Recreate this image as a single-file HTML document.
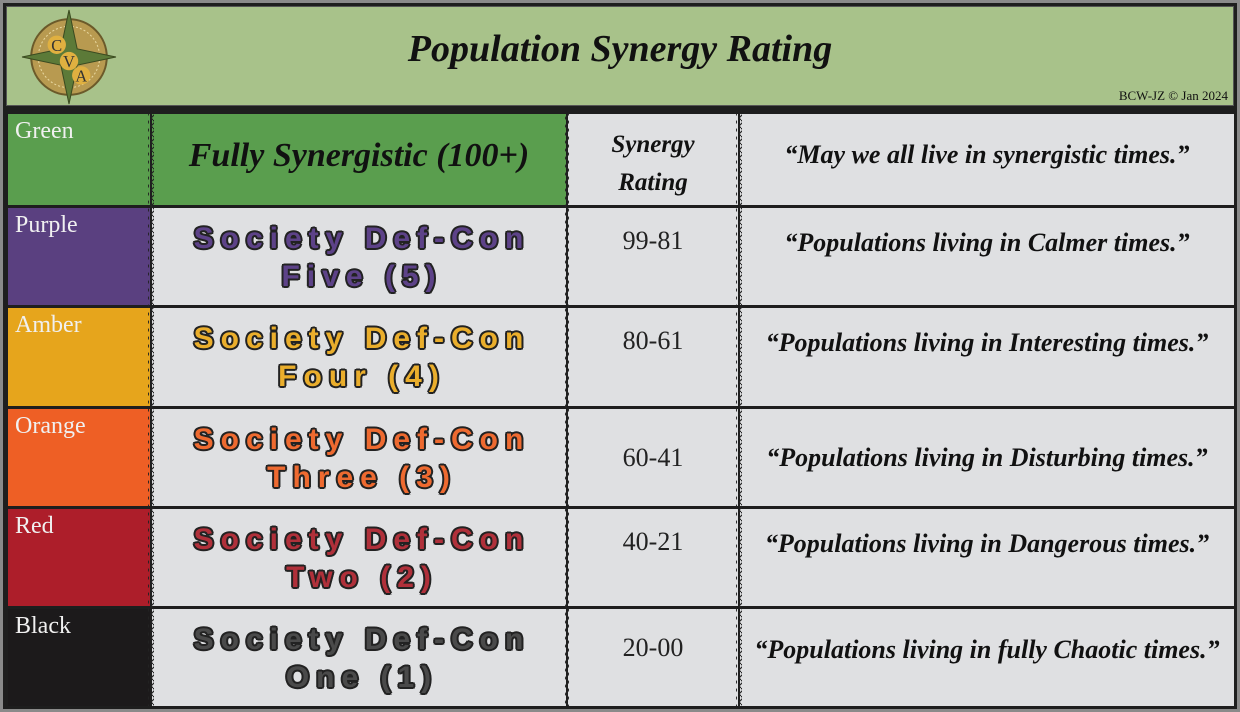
<!DOCTYPE html>
<html><head><meta charset="utf-8"><style>
body{margin:0;width:1240px;height:712px;background:#8a8a8a;position:relative;overflow:hidden;font-family:"Liberation Serif",serif}
.a{position:absolute}
.hdr{left:6px;top:6px;width:1228px;height:100px;background:#a8c28a;border:1px solid #555;box-sizing:border-box}
.cell{position:absolute;box-sizing:border-box}
.lab{color:#f0f0f0;font-size:24px;padding:4px 0 0 7px}
.dc{font-family:"Liberation Sans",sans-serif;font-weight:bold;font-size:30px;letter-spacing:7px;text-align:center;line-height:38px;padding-top:12px;padding-left:6px;
text-shadow:-2px 0 #222,2px 0 #222,0 -2px #222,0 2px #222,-1.5px -1.5px #222,1.5px 1.5px #222,-1.5px 1.5px #222,1.5px -1.5px #222}
.rt{font-size:26px;color:#222;text-align:center;padding-top:18px}
.q{font-size:26px;font-style:italic;color:#111;text-align:center;padding-top:20px}
</style></head><body>
<div class="a" style="left:3px;top:3px;width:1234px;height:706px;background:#1e1e1e"></div>
<div class="a hdr"></div>
<svg class="a" style="left:20px;top:8px" width="98" height="98" viewBox="0 0 96 96">
<circle cx="48" cy="48" r="37" fill="#b89a50" stroke="#6b5a2a" stroke-width="2"/>
<circle cx="48" cy="48" r="30" fill="none" stroke="#e8d8a0" stroke-width="1" stroke-dasharray="2 2"/>
<polygon points="48,2 56,40 94,48 56,56 48,94 40,56 2,48 40,40" fill="#5c7a38" stroke="#3a4a20"/>
<circle cx="36" cy="36" r="9" fill="#e0b040"/><text x="36" y="42" font-size="16" text-anchor="middle" fill="#333">C</text>
<circle cx="48" cy="52" r="9" fill="#e0b040"/><text x="48" y="58" font-size="16" text-anchor="middle" fill="#333">V</text>
<circle cx="60" cy="66" r="9" fill="#e0b040"/><text x="60" y="72" font-size="16" text-anchor="middle" fill="#333">A</text>
</svg>
<div class="a" style="left:0;width:1240px;top:27px;text-align:center;font-size:38px;font-weight:bold;font-style:italic;color:#111">Population Synergy Rating</div>
<div class="a" style="right:12px;top:88px;font-size:13px;color:#111">BCW-JZ © Jan 2024</div>

<div class="cell lab" style="left:8px;top:114px;width:142px;height:91px;background:#5a9e4e">Green</div>
<div class="cell" style="left:152px;top:114px;width:414px;height:91px;background:#5a9e4e;text-align:center;font-size:34px;font-style:italic;font-weight:bold;color:#111;padding-top:23px">Fully Synergistic (100+)</div>
<div class="cell" style="left:568px;top:114px;width:170px;height:91px;background:#dfe0e2;text-align:center;font-size:25px;font-style:italic;font-weight:bold;color:#111;padding-top:12px;line-height:38px">Synergy<br>Rating</div>
<div class="cell q" style="left:740px;top:114px;width:494px;height:91px;background:#dfe0e2;padding-top:26px;font-weight:bold">“May we all live in synergistic times.”</div>

<div class="cell lab" style="left:8px;top:208px;width:142px;height:97px;background:#5a4080">Purple</div>
<div class="cell dc" style="left:152px;top:208px;width:414px;height:97px;background:#dfe0e2;color:#5d4288;padding-top:12px">Society Def-Con<br>Five (5)</div>
<div class="cell rt" style="left:568px;top:208px;width:170px;height:97px;background:#dfe0e2">99-81</div>
<div class="cell q" style="left:740px;top:208px;width:494px;height:97px;background:#dfe0e2;font-weight:bold">“Populations living in Calmer times.”</div>

<div class="cell lab" style="left:8px;top:308px;width:142px;height:98px;background:#e6a51c">Amber</div>
<div class="cell dc" style="left:152px;top:308px;width:414px;height:98px;background:#dfe0e2;color:#eaae2c">Society Def-Con<br>Four (4)</div>
<div class="cell rt" style="left:568px;top:308px;width:170px;height:98px;background:#dfe0e2">80-61</div>
<div class="cell q" style="left:740px;top:308px;width:494px;height:98px;background:#dfe0e2;font-weight:bold">“Populations living in Interesting times.”</div>

<div class="cell lab" style="left:8px;top:409px;width:142px;height:97px;background:#ee5f25">Orange</div>
<div class="cell dc" style="left:152px;top:409px;width:414px;height:97px;background:#dfe0e2;color:#ee6a30">Society Def-Con<br>Three (3)</div>
<div class="cell rt" style="left:568px;top:409px;width:170px;height:97px;background:#dfe0e2;padding-top:34px">60-41</div>
<div class="cell q" style="left:740px;top:409px;width:494px;height:97px;background:#dfe0e2;font-weight:bold;padding-top:34px">“Populations living in Disturbing times.”</div>

<div class="cell lab" style="left:8px;top:509px;width:142px;height:97px;background:#ad1e2a">Red</div>
<div class="cell dc" style="left:152px;top:509px;width:414px;height:97px;background:#dfe0e2;color:#b0303a">Society Def-Con<br>Two (2)</div>
<div class="cell rt" style="left:568px;top:509px;width:170px;height:97px;background:#dfe0e2">40-21</div>
<div class="cell q" style="left:740px;top:509px;width:494px;height:97px;background:#dfe0e2;font-weight:bold">“Populations living in Dangerous times.”</div>

<div class="cell lab" style="left:8px;top:609px;width:142px;height:97px;background:#1c1a1b">Black</div>
<div class="cell dc" style="left:152px;top:609px;width:414px;height:97px;background:#dfe0e2;color:#4a4a4a">Society Def-Con<br>One (1)</div>
<div class="cell rt" style="left:568px;top:609px;width:170px;height:97px;background:#dfe0e2;padding-top:24px">20-00</div>
<div class="cell q" style="left:740px;top:609px;width:494px;height:97px;background:#dfe0e2;font-weight:bold;padding-top:26px">“Populations living in fully Chaotic times.”</div>

<svg class="a" style="left:0;top:0" width="1240" height="712">
<defs><pattern id="w" width="6" height="8" patternUnits="userSpaceOnUse"><path d="M3,0 Q6,2 3,4 Q0,6 3,8" fill="none" stroke="#222" stroke-width="1.2"/></pattern></defs>
<rect x="148" y="114" width="6" height="592" fill="url(#w)"/>
<rect x="564" y="114" width="6" height="592" fill="url(#w)"/>
<rect x="736" y="114" width="6" height="592" fill="url(#w)"/>
</svg>
</body></html>
